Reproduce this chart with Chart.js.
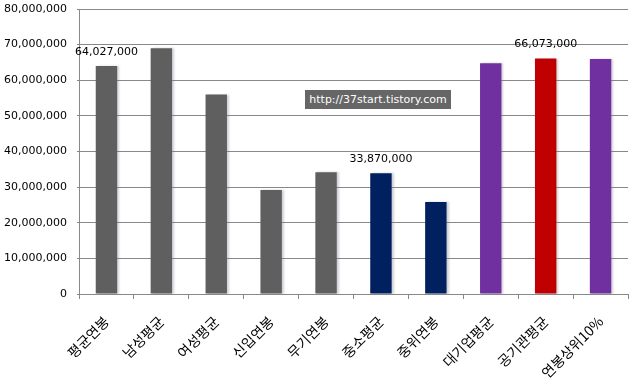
<!DOCTYPE html>
<html>
<head>
<meta charset="utf-8">
<script src="https://cdn.jsdelivr.net/npm/chart.js@4"></script>
<style>
  html, body { margin: 0; padding: 0; background: #fff; }
  #wrap { position: relative; width: 635px; height: 381px; }
  #watermark {
    position: absolute; left: 305px; top: 90px; width: 146px; height: 19px;
    background: #666; color: #fff; font: 11px "DejaVu Sans", sans-serif;
    line-height: 19px; text-align: center; white-space: nowrap; overflow: hidden;
  }
</style>
</head>
<body>
<div id="wrap">
  <canvas id="salary-chart" width="635" height="381"></canvas>
  <div id="watermark">http://37start.tistory.com</div>
</div>
<script>
// Categories and values
const categories = ['평균연봉', '남성평균', '여성평균', '신입연봉', '무기연봉', '중소평균', '중위연봉', '대기업평균', '공기관평균', '연봉상위10%'];
const salaries = [64027000, 69000000, 56000000, 29200000, 34200000, 33870000, 25800000, 64800000, 66073000, 66000000];
const barColors = ['#5f5f5f', '#5f5f5f', '#5f5f5f', '#5f5f5f', '#5f5f5f', '#002060', '#002060', '#7030a0', '#c00000', '#7030a0'];
// only these bars carry a value label
const labelledBars = [0, 5, 8];

const fmt = v => v.toLocaleString('en-US');

// soft shadow to the right of each bar
const barShadow = {
    id: 'barShadow',
    beforeDatasetsDraw(chart) {
        const ctx = chart.ctx;
        ctx.save();
        ctx.shadowColor = 'rgba(120,120,140,0.35)';
        ctx.shadowOffsetX = 2;
        ctx.shadowOffsetY = 0;
        ctx.shadowBlur = 2;
    },
    afterDatasetsDraw(chart) {
        chart.ctx.restore();
    }
};

// value labels above selected bars
const valueLabels = {
    id: 'valueLabels',
    afterDatasetsDraw(chart) {
        const ctx = chart.ctx;
        const meta = chart.getDatasetMeta(0);
        ctx.save();
        ctx.font = '11px "DejaVu Sans", sans-serif';
        ctx.fillStyle = '#000';
        ctx.textAlign = 'center';
        ctx.textBaseline = 'middle';
        labelledBars.forEach(i => {
            const bar = meta.data[i];
            ctx.fillText(fmt(salaries[i]), bar.x, bar.y - 14);
        });
        ctx.restore();
    }
};

new Chart(document.getElementById('salary-chart'), {
    type: 'bar',
    data: {
        labels: categories,
        datasets: [{
            data: salaries,
            backgroundColor: barColors,
            borderWidth: 0,
            barPercentage: 0.78,
            categoryPercentage: 0.5
        }]
    },
    options: {
        responsive: false,
        animation: false,
        layout: { padding: { top: 9, right: 7, left: 0, bottom: 0 } },
        plugins: {
            legend: { display: false },
            tooltip: { enabled: false }
        },
        scales: {
            x: {
                grid: { drawOnChartArea: false, color: '#888', tickLength: 5 },
                border: { color: '#888' },
                ticks: {
                    color: '#000',
                    font: { family: '"Noto Sans CJK KR"', size: 14 },
                    minRotation: 45,
                    maxRotation: 45,
                    padding: 14
                },
                afterFit: scale => { scale.height = 87; }
            },
            y: {
                min: 0,
                max: 80000000,
                grid: { color: '#888', tickLength: 2 },
                border: { color: '#888' },
                ticks: {
                    stepSize: 10000000,
                    color: '#000',
                    font: { family: '"DejaVu Sans"', size: 11 },
                    padding: 10,
                    callback: v => fmt(v)
                },
                afterFit: scale => {
                    scale.width = 79;
                    scale.paddingTop = 0;
                    scale.paddingBottom = 0;
                }
            }
        }
    },
    plugins: [barShadow, valueLabels]
});
</script>
</body>
</html>
